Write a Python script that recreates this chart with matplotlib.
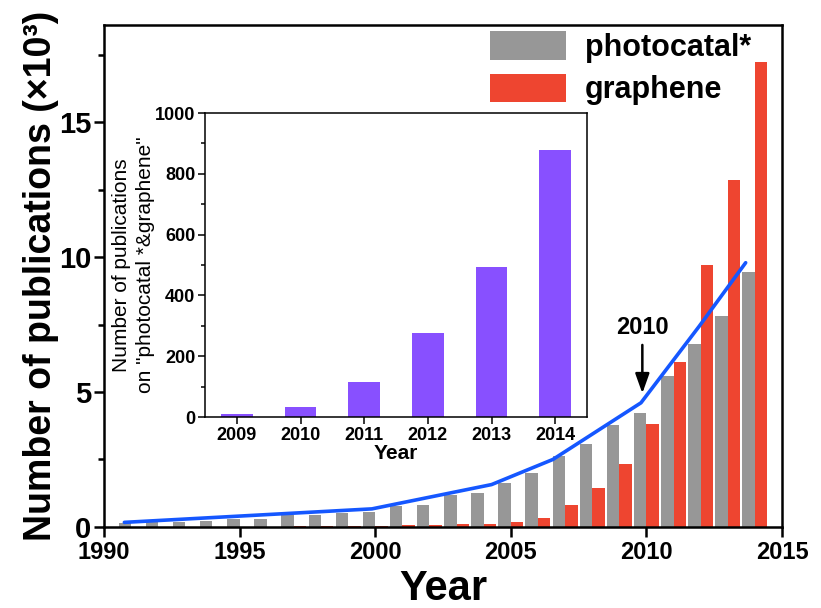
import matplotlib
matplotlib.use('Agg')
import matplotlib.pyplot as plt
import numpy as np
from matplotlib.ticker import MultipleLocator

plt.rcParams['font.family'] = ['Liberation Sans', 'DejaVu Sans']
plt.rcParams['font.weight'] = 'bold'

# main chart data (thousands of publications)
years = np.arange(1991, 2015)
photocatal = [0.16, 0.18, 0.2, 0.21, 0.28, 0.30, 0.46, 0.46, 0.53, 0.55,
              0.76, 0.83, 1.18, 1.27, 1.64, 2.0, 2.62, 3.08, 3.77, 4.23,
              5.59, 6.76, 7.81, 9.44]
graphene = [0.0, 0.0, 0.0, 0.0, 0.0, 0.01, 0.03, 0.04, 0.04, 0.05,
            0.07, 0.07, 0.1, 0.1, 0.19, 0.34, 0.8, 1.45, 2.34, 3.8,
            6.1, 9.72, 12.85, 17.23]

# trend line
trend_x = [1990.75, 1999.88, 2004.29, 2006.55, 2009.8, 2011.95, 2013.66]
trend_y = [0.17, 0.67, 1.57, 2.5, 4.6, 7.44, 9.79]

# inset data
inset_years = [2009, 2010, 2011, 2012, 2013, 2014]
inset_counts = [9, 33, 114, 277, 495, 879]

gray = '#979797'
red = '#EE4530'
blue = '#1557FF'
purple = '#8850FF'

fig = plt.figure(figsize=(8.21, 6.08), dpi=100)
ax = fig.add_axes([0.1267, 0.1333, 0.8258, 0.8257])

b1 = ax.bar(years - 0.23, photocatal, width=0.46, color=gray, label='photocatal*')
b2 = ax.bar(years + 0.23, graphene, width=0.46, color=red, label='graphene')
ax.plot(trend_x, trend_y, color=blue, lw=2.6, solid_capstyle='round')

ax.set_xlim(1990, 2015)
ax.set_ylim(0, 18.6)
ax.set_xticks(range(1990, 2016, 5))
ax.set_yticks([0, 5, 10, 15])
ax.yaxis.set_minor_locator(MultipleLocator(2.5))
ax.tick_params(axis='both', which='major', direction='out', length=7, width=1.8,
               top=False, right=False)
ax.tick_params(axis='x', labelsize=17, pad=3)
ax.tick_params(axis='y', labelsize=21, pad=2)
ax.tick_params(axis='y', which='minor', direction='out', length=4, width=1.8)
for lab in ax.get_xticklabels() + ax.get_yticklabels():
    lab.set_fontweight('bold')
for s in ax.spines.values():
    s.set_linewidth(1.8)

ax.set_xlabel('Year', fontsize=30, fontweight='bold', labelpad=4)
ax.set_ylabel('Number of publications (\u00d710\u00b3)', fontsize=27, fontweight='bold', labelpad=0)

ax.legend(handles=[b1, b2], loc='upper right', bbox_to_anchor=(0.972, 1.012), frameon=False,
          handlelength=2.5, handleheight=1.07, labelspacing=0.35, borderaxespad=0,
          handletextpad=0.6, prop={'weight': 'bold', 'size': 22})

ax.annotate('2010', xy=(2009.85, 4.95), xytext=(2009.85, 6.95),
            ha='center', va='bottom', fontsize=17, fontweight='bold',
            arrowprops=dict(arrowstyle='-|>,head_width=0.25,head_length=0.7',
                            color='black', lw=1.8, shrinkA=2, shrinkB=0))

# inset
ins = fig.add_axes([0.2497, 0.3141, 0.4653, 0.5])
ins.bar(inset_years, inset_counts, width=0.5, color=purple)
ins.set_xlim(2008.5, 2014.5)
ins.set_ylim(0, 1000)
ins.set_xticks(inset_years)
ins.set_yticks(range(0, 1001, 200))
ins.yaxis.set_minor_locator(MultipleLocator(100))
ins.tick_params(axis='both', which='major', direction='out', length=5, width=1.1,
                labelsize=13, top=False, right=False, pad=2)
ins.tick_params(axis='y', which='minor', direction='out', length=3, width=1.1)
for lab in ins.get_xticklabels() + ins.get_yticklabels():
    lab.set_fontweight('bold')
for s in ins.spines.values():
    s.set_linewidth(1.1)
ins.set_xlabel('Year', fontsize=15, fontweight='bold', labelpad=0)
ins.set_ylabel('Number of publications\non "photocatal *&graphene"', fontsize=15,
               fontweight='normal', labelpad=0, linespacing=1.3)

fig.savefig('out.png', dpi=100)
